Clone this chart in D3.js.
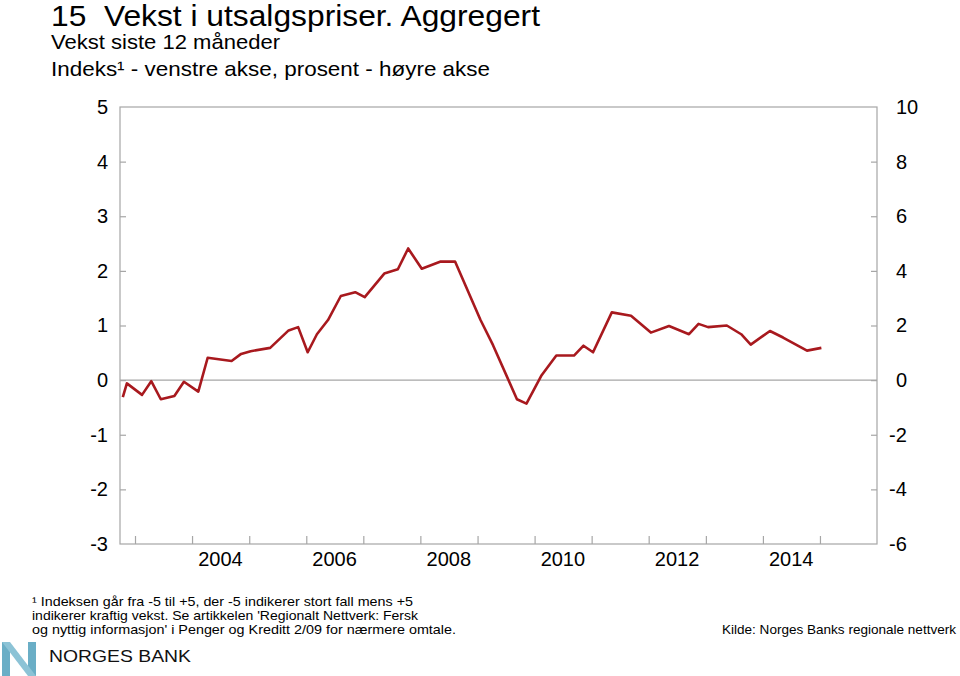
<!DOCTYPE html>
<html><head><meta charset="utf-8">
<script src="https://cdn.jsdelivr.net/npm/d3@7"></script>
<style>
body{margin:0;background:#fff;}
svg{display:block;font-family:"Liberation Sans",Arial,Helvetica,sans-serif;}
</style></head>
<body><svg id="c" width="960" height="676"></svg>
<script>
// Survey dates (regional network rounds)
const dates = ["2002-10-15","2002-11-10","2003-02-15","2003-04-15","2003-06-15","2003-09-10","2003-11-10",
"2004-02-10","2004-04-10","2004-09-10","2004-11-10","2005-01-10","2005-05-15","2005-09-10","2005-11-10",
"2006-01-10","2006-03-10","2006-05-20","2006-08-10","2006-11-10","2007-01-10","2007-05-15","2007-08-10","2007-10-15",
"2008-01-10","2008-05-10","2008-08-10","2009-01-20","2009-04-10","2009-09-10","2009-11-10",
"2010-02-15","2010-05-20","2010-09-10","2010-11-10","2011-01-10","2011-05-10","2011-09-10",
"2012-01-15","2012-05-10","2012-09-15","2012-11-15","2013-01-15","2013-05-15","2013-08-15","2013-10-15",
"2014-02-15","2014-05-10","2014-10-10","2015-01-10"];
// Index values, left axis (-5 to +5 scale)
const index = [-0.31,-0.06,-0.27,-0.02,-0.35,-0.29,-0.03,
-0.21,0.41,0.35,0.48,0.53,0.59,0.91,0.97,
0.51,0.84,1.10,1.54,1.61,1.52,1.95,2.03,2.41,
2.04,2.17,2.17,1.10,0.64,-0.35,-0.43,
0.09,0.45,0.45,0.63,0.51,1.24,1.18,
0.87,0.99,0.84,1.03,0.97,1.00,0.84,0.65,
0.90,0.78,0.54,0.59];
const leftTicks = [5,4,3,2,1,0,-1,-2,-3];
const rightTicks = [10,8,6,4,2,0,-2,-4,-6];
const yearTicks = [2003,2004,2005,2006,2007,2008,2009,2010,2011,2012,2013,2014,2015];
const yearLabels = [2004,2006,2008,2010,2012,2014];

const svg = d3.select("#c");
const L=120,R=877,T=107,B=544;
const parse = d3.timeParse("%Y-%m-%d");
const x = d3.scaleTime().domain([new Date(2002,8,27), new Date(2016,0,1)]).range([L,R]);
const yL = d3.scaleLinear().domain([-3,5]).range([B,T]);
const yR = d3.scaleLinear().domain([-6,10]).range([B,T]);
const gray="#a6a6a6";
const fmt = d=>String(d);

// frame
svg.append("rect").attr("x",L).attr("y",T).attr("width",R-L).attr("height",B-T)
  .attr("fill","none").attr("stroke",gray).attr("stroke-width",1.2);

// zero line
svg.append("line").attr("x1",L).attr("x2",R).attr("y1",yL(0)).attr("y2",yL(0))
  .attr("stroke",gray).attr("stroke-width",1.2);

// left axis
const gl = svg.append("g").attr("transform",`translate(${L},0)`)
  .call(d3.axisLeft(yL).tickValues(leftTicks).tickSize(-6).tickPadding(12).tickFormat(fmt));
// right axis
const gr = svg.append("g").attr("transform",`translate(${R},0)`)
  .call(d3.axisRight(yR).tickValues(rightTicks).tickSize(-6).tickPadding(19).tickFormat(fmt));
gr.selectAll(".tick text").attr("x",d=>d<0?12:19);
// bottom axis (ticks only)
const gb = svg.append("g").attr("transform",`translate(0,${B})`)
  .call(d3.axisBottom(x).tickValues(yearTicks.map(y=>new Date(y,0,1))).tickSize(-8).tickFormat(""));
[gl,gr,gb].forEach(g=>{
  g.select(".domain").remove();
  g.selectAll(".tick line").attr("stroke",gray).attr("stroke-width",1.2);
  g.selectAll(".tick text").attr("fill","#000").attr("font-size",20)
   .attr("font-family","'Liberation Sans',Arial,sans-serif");
});
gl.selectAll(".tick").filter(d=>d===5||d===-3).select("line").remove();
gr.selectAll(".tick").filter(d=>d===10||d===-6).select("line").remove();

// year labels
svg.append("g").selectAll("text").data(yearLabels).join("text")
  .attr("x",d=>x(new Date(d,6,1))).attr("y",566).attr("text-anchor","middle")
  .attr("font-size",20).attr("fill","#000").text(d=>d);

// line
const pts = dates.map((d,i)=>({d:parse(d),v:index[i]}));
svg.append("path").datum(pts)
  .attr("d",d3.line().x(p=>x(p.d)).y(p=>yL(p.v)))
  .attr("fill","none").attr("stroke","#a8191e").attr("stroke-width",2.6).attr("stroke-linejoin","round");

// titles
svg.append("text").attr("x",51).attr("y",26).attr("font-size",30)
  .attr("textLength",489).attr("lengthAdjust","spacingAndGlyphs")
  .text("15\u00a0\u00a0Vekst i utsalgspriser. Aggregert");
svg.append("text").attr("x",51).attr("y",49).attr("font-size",21)
  .attr("textLength",229).attr("lengthAdjust","spacingAndGlyphs").text("Vekst siste 12 måneder");
svg.append("text").attr("x",51).attr("y",76).attr("font-size",21)
  .attr("textLength",439).attr("lengthAdjust","spacingAndGlyphs")
  .text("Indeks¹ - venstre akse, prosent - høyre akse");

// footnote
const foot = ["¹ Indeksen går fra -5 til +5, der -5 indikerer stort fall mens +5",
"indikerer kraftig vekst. Se artikkelen 'Regionalt Nettverk: Fersk",
"og nyttig informasjon' i Penger og Kreditt 2/09 for nærmere omtale."];
const footW=[381,386,424];
svg.append("g").selectAll("text").data(foot).join("text")
  .attr("x",32).attr("y",(d,i)=>606+i*14).attr("font-size",13.5)
  .attr("textLength",(d,i)=>footW[i]).attr("lengthAdjust","spacingAndGlyphs").text(d=>d);
svg.append("text").attr("x",956).attr("y",634).attr("text-anchor","end").attr("font-size",13.5)
  .attr("textLength",234).attr("lengthAdjust","spacingAndGlyphs")
  .text("Kilde: Norges Banks regionale nettverk");

// logo
const lg = svg.append("g");
lg.append("path").attr("d","M2,642 L10,642 L10,676 L2,676 Z").attr("fill","#6aaec6");
lg.append("path").attr("d","M28,642 L36,642 L36,676 L28,676 Z").attr("fill","#6aaec6");
lg.append("path").attr("d","M2,642 L10,642 L36,676 L28,676 Z").attr("fill","#8cc3d6");
lg.append("text").attr("x",49).attr("y",662).attr("font-size",17).attr("textLength",142)
  .attr("lengthAdjust","spacingAndGlyphs").attr("fill","#111").text("NORGES BANK");
</script></body></html>
